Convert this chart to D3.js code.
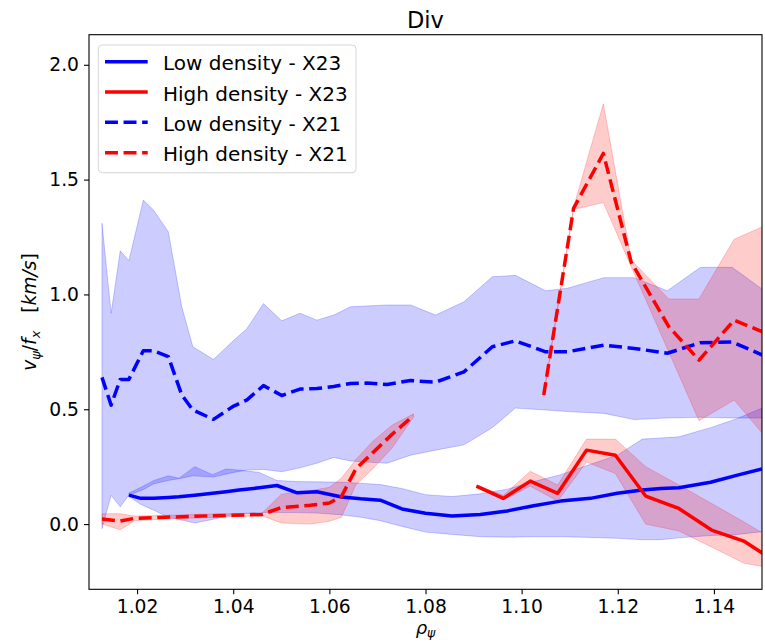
<!DOCTYPE html>
<html>
<head>
<meta charset="utf-8">
<script src="https://cdn.jsdelivr.net/npm/d3@7"></script>
<style>
  html, body { margin: 0; padding: 0; background: #fff; }
  svg { display: block; font-family: "DejaVu Sans", sans-serif; }
</style>
</head>
<body>
<svg id="chart" width="765" height="643"></svg>
<script>
// ---- data -------------------------------------------------------------
const chartTitle = "Div";
const xTicks = [1.02, 1.04, 1.06, 1.08, 1.10, 1.12, 1.14];
const yTicks = [0.0, 0.5, 1.0, 1.5, 2.0];
const legendLabels = ["Low density - X23", "High density - X23", "Low density - X21", "High density - X21"];

// Low density - X23 (mean and spread)
const lowX23Rho   = [1.0183, 1.0208, 1.0235, 1.0265, 1.0287, 1.0320, 1.0357, 1.0385, 1.0412, 1.0454, 1.0491, 1.0533, 1.0574, 1.0626, 1.0665, 1.0706, 1.0751, 1.0800, 1.0855, 1.0914, 1.0970, 1.1025, 1.1081, 1.1143, 1.1199, 1.1251, 1.1290, 1.1327, 1.1393, 1.1449, 1.1500];
const lowX23Mean  = [0.126, 0.112, 0.113, 0.116, 0.119, 0.126, 0.134, 0.141, 0.148, 0.158, 0.168, 0.136, 0.141, 0.118, 0.110, 0.104, 0.066, 0.047, 0.035, 0.042, 0.057, 0.080, 0.100, 0.112, 0.134, 0.148, 0.155, 0.158, 0.182, 0.213, 0.240];
const lowX23Lower = [0.120, 0.085, 0.060, 0.030, 0.020, 0.005, 0.020, 0.035, 0.045, 0.050, 0.050, 0.050, 0.048, 0.040, 0.030, 0.015, -0.010, -0.035, -0.045, -0.055, -0.057, -0.055, -0.055, -0.058, -0.062, -0.068, -0.068, -0.060, -0.050, -0.045, -0.033];
const lowX23Upper = [0.135, 0.160, 0.190, 0.210, 0.200, 0.250, 0.215, 0.240, 0.235, 0.225, 0.190, 0.185, 0.184, 0.182, 0.178, 0.172, 0.155, 0.128, 0.120, 0.132, 0.152, 0.185, 0.215, 0.260, 0.300, 0.370, 0.375, 0.380, 0.420, 0.460, 0.505];

// High density - X23
const highX23Rho   = [1.0906, 1.0962, 1.1018, 1.1075, 1.1135, 1.1195, 1.1258, 1.1327, 1.1395, 1.1462, 1.1502];
const highX23Mean  = [0.165, 0.112, 0.187, 0.134, 0.322, 0.300, 0.122, 0.068, -0.026, -0.074, -0.128];
const highX23Lower = [0.160, 0.105, 0.165, 0.100, 0.270, 0.220, -0.000, -0.030, -0.100, -0.170, -0.185];
const highX23Upper = [0.170, 0.125, 0.230, 0.170, 0.370, 0.370, 0.250, 0.170, 0.090, 0.010, -0.040];

// Low density - X21
const lowX21Rho   = [1.0127, 1.0146, 1.0165, 1.0183, 1.0213, 1.0234, 1.0265, 1.0293, 1.0316, 1.0359, 1.0401, 1.0428, 1.0463, 1.0501, 1.0539, 1.0574, 1.0609, 1.0644, 1.0678, 1.0720, 1.0769, 1.0821, 1.0880, 1.0939, 1.0987, 1.1050, 1.1095, 1.1171, 1.1234, 1.1303, 1.1372, 1.1438, 1.1501];
const lowX21Mean  = [0.639, 0.518, 0.630, 0.630, 0.755, 0.755, 0.729, 0.562, 0.497, 0.456, 0.514, 0.540, 0.603, 0.560, 0.588, 0.590, 0.599, 0.612, 0.614, 0.608, 0.625, 0.618, 0.663, 0.772, 0.798, 0.750, 0.750, 0.779, 0.765, 0.744, 0.790, 0.793, 0.736];
const lowX21Lower = [-0.020, 0.125, 0.075, 0.126, 0.150, 0.175, 0.190, 0.200, 0.210, 0.205, 0.225, 0.235, 0.238, 0.228, 0.245, 0.265, 0.290, 0.275, 0.270, 0.265, 0.300, 0.322, 0.345, 0.420, 0.505, 0.497, 0.490, 0.482, 0.455, 0.462, 0.465, 0.462, 0.462];
const lowX21Upper = [1.310, 0.918, 1.190, 1.147, 1.411, 1.368, 1.273, 0.946, 0.772, 0.717, 0.800, 0.850, 0.960, 0.885, 0.918, 0.888, 0.910, 0.946, 0.950, 0.954, 0.954, 0.910, 0.968, 1.077, 1.083, 1.016, 1.027, 1.073, 1.073, 1.016, 1.118, 1.118, 1.022];

// High density - X21 (null marks the radial range without data)
const highX21Rho   = [1.0127, 1.0165, 1.0195, 1.0260, 1.0350, 1.0460, 1.0500, 1.0560, 1.0600, 1.0625, 1.0655, 1.0690, 1.0730, 1.0775, 1.0900, 1.1046, 1.1108, 1.1170, 1.1228, 1.1306, 1.1369, 1.1442, 1.1501];
const highX21Mean  = [0.022, 0.013, 0.025, 0.030, 0.036, 0.042, 0.072, 0.082, 0.092, 0.120, 0.240, 0.310, 0.390, 0.472, null, 0.562, 1.375, 1.614, 1.140, 0.860, 0.714, 0.888, 0.837];
const highX21Lower = [0.000, -0.025, 0.015, 0.022, 0.028, 0.036, 0.005, 0.000, 0.012, 0.030, 0.170, 0.240, 0.330, 0.465, null, 0.555, 1.370, 1.400, 1.120, 0.750, 0.450, 0.540, 0.395];
const highX21Upper = [0.045, 0.045, 0.035, 0.038, 0.044, 0.048, 0.130, 0.145, 0.160, 0.200, 0.280, 0.360, 0.430, 0.480, null, 0.570, 1.380, 1.830, 1.150, 0.980, 0.980, 1.240, 1.295];

// ---- layout -----------------------------------------------------------
const svg = d3.select("#chart");
const plot = { left: 89, top: 34.7, right: 762, bottom: 589.3 };

const x = d3.scaleLinear().domain([1.01, 1.15]).range([plot.left, plot.right]);
const y = d3.scaleLinear().domain([-0.284, 2.131]).range([plot.bottom, plot.top]);

const BLUE = "#0000ff", RED = "#ff0000";
const LW = 3.5;
const DASH = [LW * 3.7, LW * 1.6].join(",");

const series = [
  { name: legendLabels[0], rho: lowX23Rho,  mean: lowX23Mean,  lo: lowX23Lower,  hi: lowX23Upper,  color: BLUE, dashed: false },
  { name: legendLabels[1], rho: highX23Rho, mean: highX23Mean, lo: highX23Lower, hi: highX23Upper, color: RED,  dashed: false },
  { name: legendLabels[2], rho: lowX21Rho,  mean: lowX21Mean,  lo: lowX21Lower,  hi: lowX21Upper,  color: BLUE, dashed: true },
  { name: legendLabels[3], rho: highX21Rho, mean: highX21Mean, lo: highX21Lower, hi: highX21Upper, color: RED,  dashed: true }
];
series.forEach(s => {
  s.points = s.rho.map((r, i) => ({ r, v: s.mean[i], lo: s.lo[i], hi: s.hi[i] }));
});

svg.append("defs").append("clipPath").attr("id", "plot-clip")
  .append("rect")
  .attr("x", plot.left).attr("y", plot.top)
  .attr("width", plot.right - plot.left).attr("height", plot.bottom - plot.top);

const body = svg.append("g").attr("clip-path", "url(#plot-clip)");

// spread bands
const band = d3.area()
  .defined(d => d.v != null)
  .x(d => x(d.r))
  .y0(d => y(d.lo))
  .y1(d => y(d.hi));

series.forEach(s => {
  body.append("path")
    .datum(s.points)
    .attr("d", band)
    .attr("fill", s.color)
    .attr("fill-opacity", 0.2)
    .attr("stroke", s.color)
    .attr("stroke-opacity", 0.2)
    .attr("stroke-width", 1);
});

// mean profiles
const line = d3.line()
  .defined(d => d.v != null)
  .x(d => x(d.r))
  .y(d => y(d.v));

series.forEach(s => {
  body.append("path")
    .datum(s.points)
    .attr("d", line)
    .attr("fill", "none")
    .attr("stroke", s.color)
    .attr("stroke-width", LW)
    .attr("stroke-linejoin", "round")
    .attr("stroke-dasharray", s.dashed ? DASH : null);
});

// ---- axes ---------------------------------------------------------------
const TICK_FONT = 18.7;

const xAxis = svg.append("g")
  .attr("transform", `translate(0,${plot.bottom})`)
  .call(d3.axisBottom(x).tickValues(xTicks).tickFormat(d3.format(".2f")).tickSize(5).tickPadding(5.5));
const yAxis = svg.append("g")
  .attr("transform", `translate(${plot.left},0)`)
  .call(d3.axisLeft(y).tickValues(yTicks).tickFormat(d3.format(".1f")).tickSize(5).tickPadding(5));

[xAxis, yAxis].forEach(g => {
  g.select(".domain").remove();
  g.selectAll(".tick line").attr("stroke", "#000").attr("stroke-width", 1.1);
  g.selectAll(".tick text")
    .attr("fill", "#000")
    .style("font-family", "DejaVu Sans")
    .style("font-size", TICK_FONT + "px");
});

// frame
svg.append("rect")
  .attr("x", plot.left).attr("y", plot.top)
  .attr("width", plot.right - plot.left).attr("height", plot.bottom - plot.top)
  .attr("fill", "none").attr("stroke", "#000").attr("stroke-width", 1.1);

// title
svg.append("text")
  .attr("x", (plot.left + plot.right) / 2).attr("y", 28.3)
  .attr("text-anchor", "middle")
  .style("font-size", "22.5px")
  .attr("fill", "#000")
  .text(chartTitle);

// x label: rho_psi
const xl = svg.append("text")
  .attr("x", (plot.left + plot.right) / 2).attr("y", 634)
  .attr("text-anchor", "middle")
  .style("font-size", "18px")
  .attr("fill", "#000");
xl.append("tspan").style("font-style", "italic").text("ρ");
xl.append("tspan").style("font-style", "italic").style("font-size", "12.5px").attr("dy", 3).text("ψ");

// y label: v_psi / f_x   [km/s]
const yl = svg.append("text")
  .attr("transform", `translate(36,${(plot.top + plot.bottom) / 2}) rotate(-90)`)
  .attr("text-anchor", "middle")
  .style("font-size", TICK_FONT + "px")
  .attr("fill", "#000");
yl.append("tspan").style("font-style", "italic").text("v");
yl.append("tspan").style("font-style", "italic").style("font-size", "13px").attr("dy", 4).text("ψ");
yl.append("tspan").attr("dy", -4).text("/");
yl.append("tspan").style("font-style", "italic").text("f");
yl.append("tspan").style("font-style", "italic").style("font-size", "13px").attr("dy", 4).text("x");
yl.append("tspan").attr("dy", -4).text("\u00a0\u00a0\u00a0[");
yl.append("tspan").style("font-style", "italic").text("km/s");
yl.append("tspan").text("]");

// ---- legend ---------------------------------------------------------------
const legend = svg.append("g");
legend.append("rect")
  .attr("x", 98.3).attr("y", 45)
  .attr("width", 257.7).attr("height", 127.7)
  .attr("rx", 4).attr("ry", 4)
  .attr("fill", "#fff").attr("fill-opacity", 0.8)
  .attr("stroke", "#d6d6d6").attr("stroke-width", 1);

const rowY = d3.scaleLinear().domain([0, 3]).range([61.7, 152.7]);
series.forEach((s, i) => {
  const yy = rowY(i);
  legend.append("line")
    .attr("x1", 105).attr("x2", 147.7)
    .attr("y1", yy).attr("y2", yy)
    .attr("stroke", s.color).attr("stroke-width", LW)
    .attr("stroke-dasharray", s.dashed ? DASH : null);
  legend.append("text")
    .attr("x", 163).attr("y", yy + 8.5)
    .style("font-size", "20px")
    .attr("fill", "#000")
    .text(s.name);
});
</script>
</body>
</html>
